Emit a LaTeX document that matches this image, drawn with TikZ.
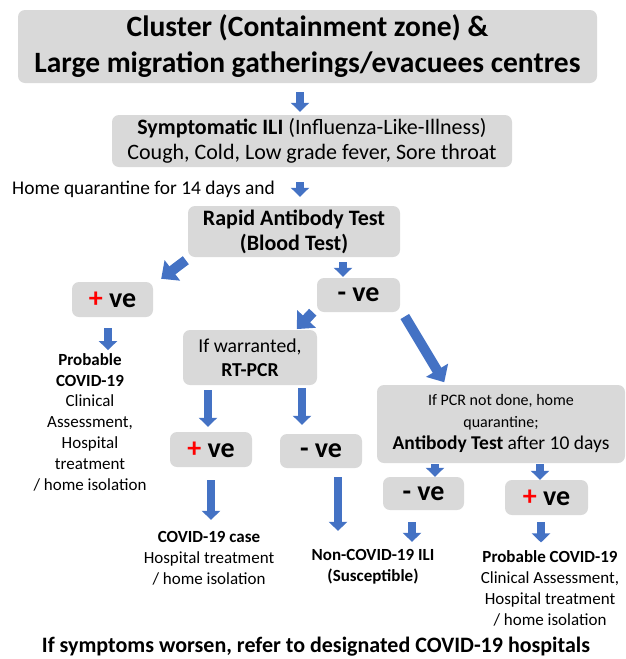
\documentclass[tikz,border=0pt]{standalone}
\usepackage{fontspec}
\setmainfont{Carlito}
\usetikzlibrary{arrows.meta}
\definecolor{boxgray}{HTML}{D9D9D9}
\definecolor{arrowblue}{HTML}{4472C4}
\definecolor{plusred}{HTML}{FF0000}
\newcommand{\posve}{{\color{plusred}+} ve}
\newcommand{\negve}{- ve}
\begin{document}
\begin{tikzpicture}[x=1pt, y=-1pt,
    box/.style = {fill=boxgray, rounded corners=7pt, align=center, inner sep=0pt},
    result/.style = {box, minimum width=82pt, minimum height=34pt, font=\fontsize{28}{30}\selectfont\bfseries},
    note/.style = {align=center, inner sep=0pt, font=\fontsize{17}{21}\selectfont},
    down/.style = {draw=arrowblue, line width=8pt, -{Triangle[width=18pt,length=9pt]}},
    slant/.style = {draw=arrowblue, line width=10pt, -{Triangle[width=25pt,length=14pt]}}]
    \useasboundingbox (0,0) rectangle (625,659);
    % boxes
    \node[box, minimum width=579pt, minimum height=73pt, font=\fontsize{29.5}{36}\selectfont\bfseries] (title) at (307.5,46.5)
        {Cluster (Containment zone) \&\\Large migration gatherings/evacuees centres};
    \node[box, minimum width=400pt, minimum height=52pt, font=\fontsize{22}{25}\selectfont] (ili) at (312,141)
        {\textbf{Symptomatic ILI} (Influenza-Like-Illness)\\Cough, Cold, Low grade fever, Sore throat};
    \node[anchor=west, inner sep=0pt, font=\fontsize{19.4}{22}\selectfont] (quar) at (12,189) {Home quarantine for 14 days and};
    \node[box, minimum width=212pt, minimum height=51pt, font=\fontsize{22}{25}\selectfont\bfseries] (rapid) at (294,231.5)
        {Rapid Antibody Test\\(Blood Test)};
    \node[result, minimum width=81pt, minimum height=35pt] (pos1) at (112.5,299.5) {\posve};
    \node[result, minimum width=83pt] (neg1) at (358.5,295) {\negve};
    \node[note, font=\fontsize{17}{20.8}\selectfont] (prob1) at (90,422)
        {\textbf{Probable}\\\textbf{COVID-19}\\Clinical\\Assessment,\\Hospital\\treatment\\/ home isolation};
    \node[box, minimum width=134pt, minimum height=55pt, font=\fontsize{19.7}{24}\selectfont] (warr) at (250,357.5)
        {If warranted,\\\textbf{RT-PCR}};
    \node[box, minimum width=248pt, minimum height=78pt, font=\fontsize{16}{22}\selectfont] (pcr) at (501,424)
        {If PCR not done, home\\quarantine;\\{\fontsize{19.5}{22}\selectfont\textbf{Antibody Test} after 10 days}};
    \node[result, minimum height=35pt] (pos2) at (211,449.5) {\posve};
    \node[result] (neg2) at (321,451) {\negve};
    \node[result, minimum width=81pt, minimum height=33pt] (neg3) at (423.5,493.5) {\negve};
    \node[result, minimum width=83pt, minimum height=35pt] (pos3) at (546.5,497.5) {\posve};
    \node[note] (case) at (209,558) {\textbf{COVID-19 case}\\Hospital treatment\\/ home isolation};
    \node[note, font=\fontsize{17}{21}\selectfont\bfseries] (noncov) at (373,566.5) {Non-COVID-19 ILI\\(Susceptible)};
    \node[note] (prob3) at (550,588.5)
        {\textbf{Probable COVID-19}\\Clinical Assessment,\\Hospital treatment\\/ home isolation};
    \node[inner sep=0pt, font=\fontsize{22}{24}\selectfont\bfseries] (worse) at (316,647)
        {If symptoms worsen, refer to designated COVID-19 hospitals};
    % arrows
    \draw[down, shorten <=9pt, shorten >=3pt] ([xshift=-12pt]ili.north |- title.south) -- ([xshift=-12pt]ili.north);
    \draw[down, shorten <=15pt, shorten >=9pt] ([xshift=-12pt]ili.south) -- ([xshift=-12pt]ili.south |- rapid.north);
    \draw[slant, shorten <=5pt, shorten >=5pt] ([xshift=2pt]rapid.south west) -- ([xshift=4pt]pos1.north east);
    \draw[down, shorten <=5pt, shorten >=1pt] ([xshift=-15.5pt]neg1.north |- rapid.south) -- ([xshift=-15.5pt]neg1.north);
    \draw[down, shorten <=11pt, shorten >=3pt] ([xshift=-4.5pt]pos1.south) -- ([xshift=-4.5pt]pos1.south |- prob1.north);
    \draw[slant, shorten >=1pt] ([xshift=-4pt]neg1.south west) -- ([xshift=-21pt]warr.north east);
    \draw[slant, shorten <=5pt, shorten >=3pt] ([xshift=2pt]neg1.south east) -- ([xshift=69pt]pcr.north west);
    \draw[down, shorten <=5pt, shorten >=5pt] ([xshift=-3pt]pos2.north |- warr.south) -- ([xshift=-3pt]pos2.north);
    \draw[down, shorten <=3pt, shorten >=9pt] ([xshift=-19pt]neg2.north |- warr.south) -- ([xshift=-19pt]neg2.north);
    \draw[down, shorten <=13pt, shorten >=11pt] (pos2.south) -- (pos2.south |- case.north);
    \draw[down, shorten <=9pt, shorten >=18pt] ([xshift=17pt]neg2.south) -- ([xshift=17pt]neg2.south |- noncov.north);
    \draw[down, shorten <=1pt, shorten >=0pt] ([xshift=11.5pt]neg3.north |- pcr.south) -- ([xshift=11.5pt]neg3.north);
    \draw[down, shorten <=1pt, shorten >=0pt] ([xshift=-6.5pt]pos3.north |- pcr.south) -- ([xshift=-6.5pt]pos3.north);
    \draw[down, shorten <=12pt, shorten >=7pt] ([xshift=-11.5pt]neg3.south) -- ([xshift=-11.5pt]neg3.south |- noncov.north);
    \draw[down, shorten <=7pt, shorten >=8pt] ([xshift=-5.5pt]pos3.south) -- ([xshift=-5.5pt]pos3.south |- prob3.north);
\end{tikzpicture}
\end{document}
